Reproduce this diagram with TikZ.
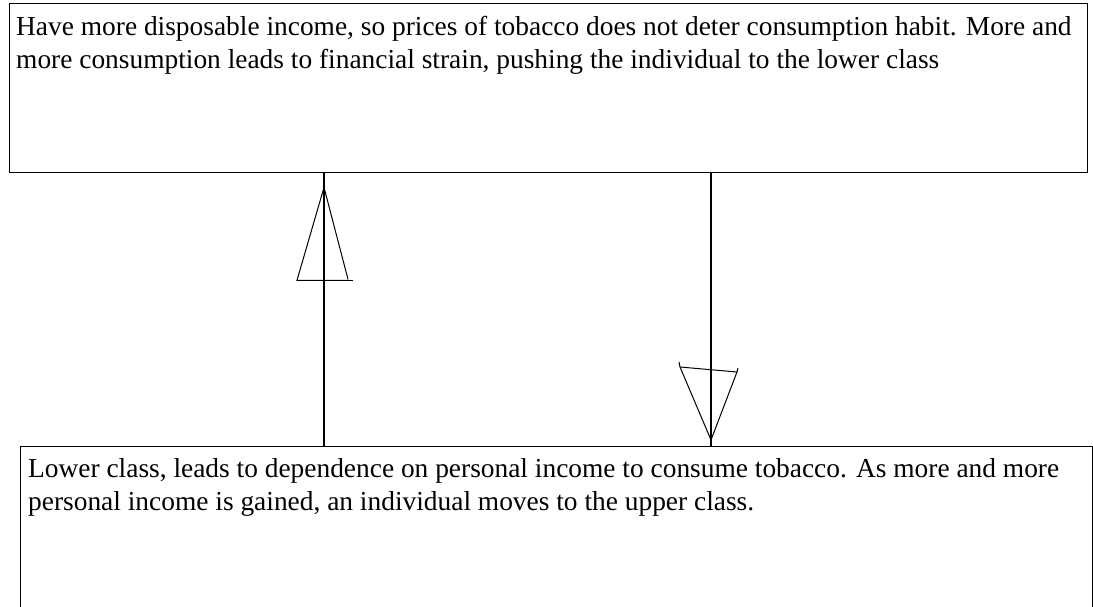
\documentclass[tikz,border=0pt]{standalone}
\usepackage{fontspec}
\setmainfont{Liberation Serif}
\usetikzlibrary{calc}
\begin{document}
\begin{tikzpicture}[x=1pt,y=-1pt,
  box/.style={draw, line width=1.3pt, rectangle, inner sep=0pt, anchor=north west},
  txt/.style={anchor=north west, inner sep=0pt, align=left, font=\fontsize{27.4}{33}\selectfont},
  conn/.style={line width=1.3pt},
  head/.style={line width=1pt}]
\useasboundingbox[fill=white] (0,0) rectangle (1093,607);
\node[box, minimum width=1078pt, minimum height=169pt] (top) at (9,3) {};
\node[box, minimum width=1072pt, minimum height=200pt] (bot) at (20,446) {};
\node[txt] (ttop) at (16,16.3) {Have more disposable income, so prices of tobacco does not deter consumption habit. More and\\more consumption leads to financial strain, pushing the individual to the lower class};
\node[txt] (tbot) at (28,458.3) {Lower class, leads to dependence on personal income to consume tobacco. As more and more\\personal income is gained, an individual moves to the upper class.};
\coordinate (la) at (324,0);
\coordinate (ra) at (711,0);
% left connector (upwards)
\draw[conn] (bot.north -| la) -- (top.south -| la);
\draw[head] ($(top.south -| la)+(0,14)$) -- ++(-27,93) -- ++(53,0);
\draw[head] ($(top.south -| la)+(0,14)$) -- ++(24,92);
\draw[head] ($(top.south -| la)+(-27,107)$) -- ++(56,0);
% right connector (downwards)
\draw[conn] (top.south -| ra) -- (bot.north -| ra);
\draw[head] ($(bot.north -| ra)+(0,-6)$) -- ++(-31,-73) -- ++(-1,-5);
\draw[head] ($(bot.north -| ra)+(0,-6)$) -- ++(26,-68) -- ++(1,-4);
\draw[head] ($(bot.north -| ra)+(-31,-79)$) -- ++(57,5);
\end{tikzpicture}
\end{document}
